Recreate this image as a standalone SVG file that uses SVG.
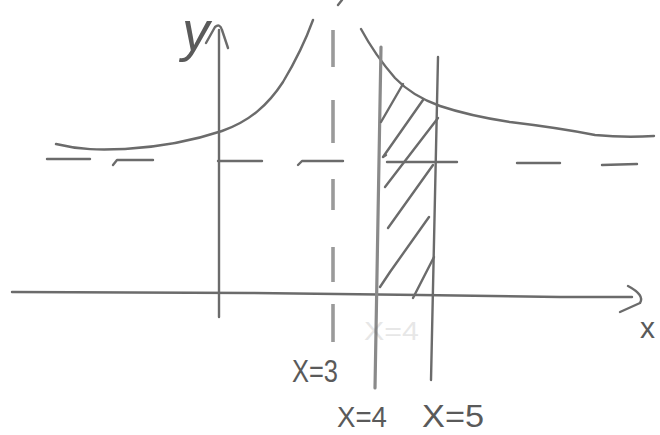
<svg xmlns="http://www.w3.org/2000/svg" width="660" height="435" viewBox="0 0 660 435">
<style>
.pen{fill:none;stroke:#6b6b6b;stroke-width:2.4;stroke-linecap:round;stroke-linejoin:round}
.soft{fill:none;stroke:#8a8a8a;stroke-width:3.2;stroke-linecap:round}
.dash3{fill:none;stroke:#9a9a9a;stroke-width:3.6;stroke-linecap:butt}
.lbl{font-family:"Liberation Sans",Arial,sans-serif;fill:#5a5a5a}
</style>
<rect width="660" height="435" fill="#ffffff"/>
<g id="axes">
  <polyline class="pen" points="12,292 250,293 420,295 560,297 632,297"/>
  <path class="pen" d="M628,286 Q645,295 640,303 L620,312"/>
  <line class="pen" x1="219" y1="30" x2="219" y2="317"/>
  <path class="pen" d="M206,43 L215,27 Q220,23 222,30 L228,48"/>
  <text class="lbl" x="182" y="50" font-size="55" font-style="italic">y</text>
  <text class="lbl" x="640" y="338" font-size="30">x</text>
</g>
<g id="asymptotes">
  <g class="pen">
    <line x1="47" y1="159" x2="90" y2="159"/>
    <polyline points="113,165 117,160 153,160"/>
    <line x1="218" y1="161" x2="262" y2="161"/>
    <polyline points="298,165 302,161 343,161"/>
    <line x1="387" y1="162" x2="457" y2="162"/>
    <line x1="517" y1="163" x2="560" y2="163"/>
    <line x1="602" y1="165" x2="637" y2="164"/>
  </g>
  <g class="dash3">
    <line x1="333" y1="30" x2="333" y2="67"/>
    <line x1="333" y1="100" x2="333" y2="143"/>
    <line x1="333" y1="179" x2="333" y2="210"/>
    <line x1="333" y1="247" x2="333" y2="282"/>
    <line x1="333" y1="304" x2="333" y2="342"/>
  </g>
  <line class="pen" x1="342" y1="0" x2="338" y2="5"/>
</g>
<g id="curves">
  <path class="pen" d="M56,144 C80,150 100,150 125,149 C160,147 195,140 222,131 C250,121 268,105 283,82 C295,62 305,42 313,20"/>
  <path class="pen" d="M361,29 Q375,55 395,78 Q412,96 440,106 Q470,116 510,122 Q560,128 595,135 Q625,138 654,136"/>
</g>
<g id="region">
  <line class="soft" x1="381" y1="47" x2="375" y2="388"/>
  <line class="pen" x1="438" y1="57" x2="431" y2="380"/>
  <g class="pen">
    <line x1="403" y1="84" x2="381" y2="122"/>
    <polyline points="423,100 383,157 386,155"/>
    <line x1="438" y1="118" x2="385" y2="187"/>
    <line x1="433" y1="165" x2="388" y2="228"/>
    <polyline points="429,217 390,272 380,287"/>
    <line x1="434" y1="257" x2="413" y2="298"/>
  </g>
</g>
<g id="labels">
  <text class="lbl" x="292" y="382" font-size="32" textLength="46" lengthAdjust="spacingAndGlyphs">X=3</text>
  <text class="lbl" x="337" y="427" font-size="30" textLength="50" lengthAdjust="spacingAndGlyphs">X=4</text>
  <text class="lbl" x="422" y="427" font-size="31" textLength="62" lengthAdjust="spacingAndGlyphs">X=5</text>
  <text class="lbl" x="364" y="340" font-size="26" opacity="0.14" textLength="55" lengthAdjust="spacingAndGlyphs">X=4</text>
</g>
</svg>
